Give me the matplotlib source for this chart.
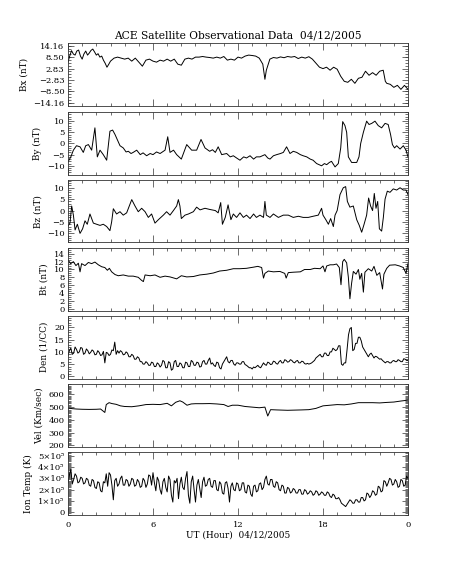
import numpy as np
import matplotlib
matplotlib.use("Agg")
import matplotlib.pyplot as plt
from matplotlib.ticker import FixedLocator, FixedFormatter, MultipleLocator

plt.rcParams['font.family'] = ['DejaVu Serif']

# ---------------- data ----------------
bx_t = [0, 0.12, 0.25, 0.38, 0.5, 0.62, 0.75, 0.88, 1.0, 1.12, 1.25, 1.38, 1.5, 1.62, 1.75, 1.88,
        2.0, 2.12, 2.25, 2.38, 2.5, 2.62, 2.75, 2.88, 3.0, 3.25, 3.5, 3.75,
        4.0, 4.25, 4.5, 4.75, 5.0, 5.25, 5.5, 5.75, 6.0, 6.25, 6.5, 6.75, 7.0, 7.25, 7.5, 7.75,
        8.0, 8.25, 8.5, 8.75, 9.0, 9.25, 9.5, 9.75, 10.0, 10.25, 10.5, 10.75, 11.0, 11.25, 11.5,
        11.75, 12.0, 12.25, 12.5, 12.75, 13.0, 13.25, 13.5, 13.75, 13.9, 14.0, 14.25, 14.5, 14.75,
        15.0, 15.25, 15.5, 15.75, 16.0, 16.25, 16.5, 16.75, 17.0, 17.25, 17.5, 17.75, 18.0, 18.25,
        18.5, 18.75, 19.0, 19.25, 19.5, 19.75, 20.0, 20.25, 20.5, 20.75, 21.0, 21.25, 21.5, 21.75,
        22.0, 22.25, 22.4, 22.5, 22.75, 23.0, 23.25, 23.5, 23.75, 24.0]
bx_v = [6.0, 9.0, 11.7, 10.0, 9.5, 11.5, 12.0, 9.0, 7.5, 10.0, 11.5, 9.5, 10.5, 11.8, 12.5, 11.0,
        9.5, 10.2, 8.5, 9.0, 7.0, 5.5, 3.5, 5.0, 6.5, 8.0, 8.5, 8.0,
        7.5, 8.0, 6.5, 8.0, 6.0, 4.0, 7.0, 7.5, 6.5, 6.0, 7.0, 6.5, 7.5, 6.5, 7.5, 5.0,
        4.5, 7.5, 8.0, 7.5, 8.5, 8.5, 8.8, 8.5, 8.3, 8.0, 8.5, 8.0, 8.8, 7.0, 7.5,
        7.0, 8.5, 8.0, 9.0, 9.5, 9.3, 9.0, 8.0, 5.0, -2.5, 2.0, 7.5, 8.3, 8.0,
        8.6, 8.2, 8.8, 8.5, 8.8, 7.8, 8.5, 8.0, 8.7, 7.5, 5.5, 3.5, 2.8, 3.5,
        2.0, 3.5, 2.5, -1.0, -3.5, -4.0, -2.5, -4.5, -2.0, -1.5, 1.5, -0.5, 0.8, -0.5,
        1.5, 2.0, -3.5, -4.5, -5.0, -6.5, -5.5, -7.5, -5.5, -7.5]

by_t = [0, 0.2, 0.38, 0.6, 0.85, 1.08, 1.25, 1.44, 1.67, 1.9, 2.07, 2.26, 2.49, 2.73, 2.96, 3.15,
        3.32, 3.67, 3.9, 4.1, 4.26, 4.45, 4.6, 4.85, 5.1, 5.3, 5.55, 5.8, 6.0, 6.25, 6.5, 6.85,
        7.04, 7.2, 7.45, 7.67, 8.0, 8.38, 8.73, 9.08, 9.39, 9.67, 10.0, 10.2, 10.4, 10.6, 10.85,
        11.2, 11.45, 11.67, 11.9, 12.14, 12.4, 12.6, 12.85, 13.1, 13.3, 13.55, 13.9, 14.1, 14.26,
        14.5, 14.73, 15.0, 15.2, 15.43, 15.67, 15.9, 16.14, 16.4, 16.6, 16.85, 17.1, 17.3, 17.55,
        17.9, 18.1, 18.26, 18.45, 18.6, 18.85, 19.08, 19.25, 19.39, 19.55, 19.67, 19.79, 20.02,
        20.38, 20.54, 20.66, 20.85, 21.08, 21.25, 21.44, 21.67, 21.9, 22.14, 22.38, 22.6, 22.77,
        22.9, 23.05, 23.2, 23.44, 23.67, 23.86, 24.0]
by_v = [-8.2, -6.0, -3.0, -1.0, -1.5, -4.0, -1.0, -0.5, -3.0, 7.0, -6.0, -3.0, -5.0, -7.5, 5.5, 6.0,
        4.0, -1.0, -2.0, -3.8, -3.5, -4.5, -4.0, -3.0, -5.0, -4.2, -5.5, -4.5, -5.0, -3.8, -4.5, -3.0,
        3.0, -4.0, -3.0, -5.0, -7.0, -0.5, -3.0, -3.0, 1.8, -2.0, -3.5, -2.8, -4.0, -1.5, -5.0,
        -4.5, -6.0, -5.5, -6.5, -7.5, -6.0, -6.5, -5.5, -7.0, -6.0, -6.0, -5.0, -6.5, -7.0,
        -5.5, -5.0, -4.5, -4.0, -1.5, -4.5, -3.5, -4.0, -5.0, -5.5, -6.0, -7.0, -7.5, -9.0,
        -10.0, -9.0, -9.5, -8.5, -8.0, -10.5, -9.0, -2.0, 9.8, 8.0, 5.0, -6.0, -8.5,
        -8.5, -6.0, 0.0, 5.0, 10.0, 8.5, 9.0, 10.0, 8.0, 7.0, 9.0, 8.5, 4.0,
        -0.5, -2.0, -1.0, -2.5, -1.0, -3.0, -6.0]

bz_t = [0, 0.14, 0.26, 0.38, 0.5, 0.66, 0.85, 1.03, 1.2, 1.36, 1.55, 1.79, 2.02, 2.26, 2.49,
        2.73, 2.96, 3.08, 3.2, 3.43, 3.67, 3.9, 4.14, 4.5, 4.73, 4.96, 5.2, 5.44, 5.67, 5.9, 6.14,
        6.38, 6.73, 6.96, 7.2, 7.44, 7.67, 7.79, 7.9, 8.0, 8.26, 8.5, 8.85, 9.08, 9.32, 9.67, 10.0,
        10.4, 10.6, 10.78, 10.9, 11.1, 11.3, 11.5, 11.67, 11.9, 12.14, 12.38, 12.6, 12.85, 13.1,
        13.3, 13.55, 13.8, 13.9, 14.0, 14.26, 14.5, 14.85, 15.2, 15.55, 15.9, 16.26, 16.6, 16.96,
        17.3, 17.67, 17.9, 18.0, 18.2, 18.38, 18.54, 18.73, 18.85, 19.0, 19.2, 19.43, 19.6, 19.72,
        19.9, 20.14, 20.38, 20.56, 20.73, 20.9, 21.08, 21.22, 21.36, 21.5, 21.62, 21.74, 21.86,
        21.98, 22.14, 22.26, 22.38, 22.54, 22.73, 22.96, 23.2, 23.44, 23.67, 23.86, 24.0]
bz_v = [-6.8, -5.5, 2.0, -2.0, -8.5, -6.0, -10.0, -8.0, -4.5, -6.0, -1.5, -5.5, -6.0, -6.5, -6.0,
        -7.0, -8.8, -5.0, 0.8, -1.5, -0.5, -2.0, -1.0, 4.8, 2.0, -0.5, 1.0, -0.5, -3.0, -1.5, -5.5,
        -4.0, -2.0, -0.5, -2.0, 0.0, 2.0, 4.8, 2.0, -3.5, -2.0, -1.5, -0.5, 1.5, 0.3, 1.0, 0.5,
        0.0, -1.0, 3.5, -6.0, -3.0, 2.5, -4.0, -1.5, -3.0, -1.0, -3.0, -2.0, -3.5, -1.5,
        -3.0, -2.0, -3.0, 4.0, -2.0, -3.0, -1.5, -3.0, -2.0, -2.0, -3.0, -2.5, -3.0, -3.0,
        -2.5, -2.0, 1.0, -2.0, -4.0, -6.0, -3.5, -7.0, -2.0, 0.0, 7.0, 10.0, 10.5, 4.0,
        1.5, 2.0, -4.0, -6.5, -9.5, -6.0, -2.0, 5.5, 2.0, 0.0, 7.5, 1.0, 4.0,
        -8.0, -9.0, -3.0, 5.0, 8.5, 8.0, 9.5, 9.0, 10.0, 9.0, 9.0, 7.0]

bt_t = [0, 0.19, 0.38, 0.56, 0.73, 0.85, 0.96, 1.2, 1.44, 1.67, 1.9, 2.14, 2.38, 2.6, 2.78, 2.92,
        3.08, 3.32, 3.55, 3.9, 4.26, 4.6, 4.96, 5.2, 5.32, 5.44, 5.8, 6.14, 6.5, 6.85, 7.2, 7.67,
        8.0, 8.38, 8.85, 9.3, 9.8, 10.26, 10.7, 11.2, 11.67, 12.14, 12.6, 13.1, 13.4, 13.67, 13.8,
        13.9, 14.14, 14.5, 14.96, 15.3, 15.4, 15.55, 15.9, 16.4, 16.7, 17.1, 17.4, 17.8, 18.0,
        18.14, 18.26, 18.5, 18.73, 18.96, 19.15, 19.27, 19.39, 19.5, 19.67, 19.79, 19.9, 20.02,
        20.14, 20.33, 20.5, 20.6, 20.73, 20.85, 20.96, 21.2, 21.44, 21.6, 21.8, 22.0, 22.2, 22.3,
        22.5, 22.7, 23.1, 23.4, 23.67, 23.86, 24.0]
bt_v = [12.4, 11.5, 12.0, 11.0, 11.6, 9.4, 11.5, 11.0, 11.8, 11.5, 11.9, 11.2, 10.7, 10.5, 9.8, 10.3,
        9.4, 8.7, 8.4, 8.6, 8.3, 8.3, 8.0, 7.2, 6.9, 8.6, 8.4, 8.6, 8.0, 8.3, 8.1, 7.6,
        8.4, 8.1, 8.2, 8.6, 8.8, 9.1, 9.6, 9.8, 10.2, 10.2, 10.3, 10.6, 10.8, 10.5, 7.8,
        9.0, 9.6, 9.4, 9.5, 9.0, 7.8, 9.2, 9.3, 9.4, 10.0, 10.0, 10.3, 10.2, 10.9,
        9.4, 10.9, 11.2, 11.2, 11.4, 10.5, 6.1, 12.0, 12.6, 11.7, 8.0, 2.5, 6.5,
        9.5, 8.8, 10.0, 7.5, 9.0, 4.2, 9.3, 10.2, 9.6, 10.8, 8.5, 9.2, 5.0, 8.8,
        10.3, 11.1, 11.2, 10.9, 10.5, 9.0, 11.5]

# density, one value every 0.1 h
den_v = [8.5, 10.5, 11.5, 9.0, 9.5, 12.0, 11.0, 9.5, 10.0, 11.8, 11.5, 9.0, 9.5, 11.2, 10.5, 9.2,
         9.8, 10.8, 10.3, 8.8, 9.0, 10.5, 9.8, 8.5, 8.8, 10.2, 5.5, 9.8, 9.5, 8.5, 9.0, 10.8,
         10.5, 14.0, 9.0, 10.5, 9.5, 10.5, 10.0, 8.8, 9.0, 10.0, 9.5, 8.0, 8.0, 9.0, 8.5, 7.0,
         7.0, 8.0, 7.5, 6.0, 6.0, 5.0, 5.0, 6.0, 5.5, 4.5, 4.5, 5.8, 5.5, 4.0, 4.0, 5.5,
         5.0, 3.8, 4.5, 6.5, 6.0, 3.5, 3.5, 6.0, 5.5, 2.5, 3.0, 6.0, 6.5, 4.0, 4.0, 5.5,
         5.0, 3.5, 3.5, 5.8, 5.5, 4.0, 4.0, 6.5, 6.0, 4.5, 4.5, 5.8, 5.5, 3.8, 4.0, 6.0,
         6.5, 5.0, 5.0, 6.5, 7.5, 5.0, 5.5, 4.5, 4.0, 5.8, 5.5, 3.5, 3.0, 5.0, 6.0, 7.0,
         8.0, 6.0, 5.5, 6.5, 6.5, 5.0, 4.5, 5.5, 5.5, 5.0, 5.0, 6.0, 6.0, 4.8, 4.5, 4.0,
         3.5, 3.5, 3.0, 3.8, 3.5, 4.0, 4.5, 3.8, 3.5, 4.5, 5.5, 4.8, 4.5, 5.8, 5.5, 4.8,
         5.0, 6.2, 6.0, 5.2, 5.0, 6.0, 6.5, 5.5, 5.5, 6.8, 6.5, 5.8, 6.0, 6.8, 6.5, 5.8,
         5.5, 6.2, 6.5, 5.5, 5.5, 6.2, 6.0, 5.2, 5.0, 5.3, 5.0, 5.2, 5.5, 6.0, 6.5, 7.5,
         8.0, 8.5, 9.0, 8.0, 8.0, 9.5, 9.5, 8.5, 8.5, 10.0, 10.0, 11.5, 11.0, 10.5, 11.0, 12.5,
         12.5, 5.0, 4.5, 5.5, 5.5, 11.0, 17.0, 19.5, 20.0, 10.5, 11.0, 13.5, 13.5, 16.0, 16.0, 14.5,
         12.0, 11.0, 10.0, 9.0, 8.0, 9.0, 9.5, 8.5, 7.5, 8.2, 8.0, 7.5, 7.0, 7.2, 6.5, 6.0,
         5.5, 6.0, 6.0, 5.5, 5.5, 6.2, 6.5, 6.0, 6.0, 6.8, 6.5, 6.0, 6.0, 7.2, 7.0, 6.5, 6.5]
den_t = [i * 0.1 for i in range(len(den_v))]

vel_t = [0, 0.3, 0.6, 1.0, 1.5, 2.0, 2.3, 2.6, 2.7, 2.9, 3.1, 3.4, 3.7, 4.0, 4.5, 5.0, 5.5, 6.0,
         6.5, 7.0, 7.3, 7.6, 7.9, 8.1, 8.4, 8.7, 9.0, 9.5, 10.0, 10.5, 11.0, 11.3, 11.6, 12.0,
         12.5, 13.0, 13.5, 13.9, 14.1, 14.3, 14.7, 15.5, 16.5, 17.0, 17.5, 18.0, 18.5, 19.0,
         19.5, 20.0, 20.5, 21.0, 21.5, 22.0, 22.5, 23.0, 23.5, 24.0]
vel_v = [493, 488, 485, 483, 482, 483, 485, 458, 520, 535, 528, 522, 510, 505, 503, 510, 520, 522,
         520, 530, 510, 538, 550, 540, 515, 525, 527, 527, 528, 525, 520, 505, 515, 515,
         505, 500, 495, 500, 430, 480, 478, 475, 478, 480, 490, 510, 515, 520,
         518, 525, 535, 535, 535, 533, 537, 540, 548, 555]

# ion temperature in units of 1e5 K, one value every 0.1 h
temp_v = [2.6, 3.3, 3.8, 2.5, 2.9, 3.4, 3.2, 2.6, 2.7, 3.1, 3.0, 2.5, 2.6, 3.0, 2.9, 2.4,
          2.3, 2.9, 2.8, 2.2, 2.1, 2.7, 2.6, 1.9, 1.8, 2.7, 2.6, 3.4, 2.3, 3.5, 3.3, 2.4,
          1.1, 2.8, 3.0, 2.3, 2.5, 3.0, 3.2, 2.4, 2.4, 2.9, 2.8, 2.3, 2.5, 3.0, 2.9, 2.3,
          2.4, 2.9, 2.7, 2.2, 2.3, 3.0, 2.8, 2.2, 2.5, 3.3, 3.2, 2.4, 3.5, 2.6, 1.9, 3.1,
          2.8, 2.0, 1.6, 2.7, 3.0, 2.2, 1.8, 3.2, 2.9, 1.5, 0.9, 2.8, 2.6, 3.0, 1.2, 2.5,
          3.1, 2.2, 2.0, 3.0, 3.6, 1.5, 0.8, 2.7, 3.2, 2.0, 0.9, 2.4, 2.9, 2.1, 1.3, 2.7,
          3.1, 2.3, 2.4, 2.9, 3.0, 2.3, 2.2, 2.8, 2.8, 2.0, 1.9, 2.7, 2.5, 1.7, 1.6, 2.6,
          2.7, 2.1, 0.9, 2.3, 2.6, 2.0, 1.9, 2.6, 2.5, 1.9, 2.0, 2.6, 2.6, 1.8, 1.7, 2.4,
          2.3, 1.6, 1.4, 2.3, 2.4, 1.8, 1.9, 2.5, 2.6, 2.0, 2.2, 2.9, 3.2, 2.5, 2.4, 2.9,
          2.9, 2.3, 2.2, 2.7, 2.6, 2.0, 1.9, 2.4, 2.3, 1.7, 1.7, 2.2, 2.1, 1.7, 1.8, 2.1,
          2.0, 1.7, 1.7, 2.0, 2.0, 1.6, 1.6, 2.0, 1.9, 1.6, 1.7, 1.9, 1.8, 1.5, 1.6, 1.9,
          1.8, 1.5, 1.6, 1.8, 1.7, 1.5, 1.5, 1.8, 1.7, 1.4, 1.3, 1.6, 1.5, 1.2, 1.2, 1.3,
          1.1, 0.8, 0.7, 0.6, 0.5, 0.7, 0.9, 1.1, 1.0, 0.8, 0.8, 1.1, 1.1, 0.9, 0.9, 1.3,
          1.3, 1.0, 1.1, 1.7, 1.6, 1.3, 1.5, 1.9, 1.8, 1.5, 1.6, 2.3, 2.2, 1.8, 1.9, 2.8,
          2.7, 2.3, 2.6, 3.0, 2.9, 2.4, 2.5, 2.9, 2.7, 2.2, 2.3, 2.9, 2.8, 2.3, 2.4, 3.2, 3.0]
temp_t = [i * 0.1 for i in range(len(temp_v))]

hour_ticks = [0, 6, 12, 18, 24]
hour_labels = ['0', '6', '12', '18', '0']

panels = [
    dict(t=bx_t, v=bx_v, label='Bx (nT)', ylim=(-15.5, 15.5),
         ticks=[-14.16, -8.50, -2.83, 2.83, 8.50, 14.16],
         tlabels=['\u221214.16', '\u22128.50', '\u22122.83', '2.83', '8.50', '14.16'], minor=1.415),
    dict(t=by_t, v=by_v, label='By (nT)', ylim=(-13.9, 14.1),
         ticks=[-10, -5, 0, 5, 10], tlabels=['\u221210', '\u22125', '0', '5', '10'], minor=1),
    dict(t=bz_t, v=bz_v, label='Bz (nT)', ylim=(-14.0, 13.4),
         ticks=[-10, -5, 0, 5, 10], tlabels=['\u221210', '\u22125', '0', '5', '10'], minor=1),
    dict(t=bt_t, v=bt_v, label='Bt (nT)', ylim=(-0.5, 15.5),
         ticks=[0, 2, 4, 6, 8, 10, 12, 14], tlabels=['0', '2', '4', '6', '8', '10', '12', '14'],
         minor=0.5),
    dict(t=den_t, v=den_v, label='Den (1/CC)', ylim=(-0.9, 24.7),
         ticks=[0, 5, 10, 15, 20], tlabels=['0', '5', '10', '15', '20'], minor=1),
    dict(t=vel_t, v=vel_v, label='Vel (Km/sec)', ylim=(190, 682),
         ticks=[200, 300, 400, 500, 600], tlabels=['200', '300', '400', '500', '600'], minor=10),
    dict(t=temp_t, v=temp_v, label='Ion Temp (K)', ylim=(-0.2, 5.33),
         ticks=[0, 1, 2, 3, 4, 5],
         tlabels=['0', '1\u00d710\u2075', '2\u00d710\u2075', '3\u00d710\u2075', '4\u00d710\u2075',
                  '5\u00d710\u2075'], minor=0.1),
]

W, H = 453, 566
fig = plt.figure(figsize=(W / 100, H / 100), dpi=100)
left, width = 68 / W, 340 / W
tops = [43, 112, 180, 248, 316, 384, 452]
ph = 62.5

for i, p in enumerate(panels):
    top = tops[i]
    ax = fig.add_axes([left, 1 - (top + ph) / H, width, ph / H])
    ax.plot(p['t'], p['v'], color='black', lw=0.7)
    ax.set_xlim(0, 24)
    ax.set_ylim(*p['ylim'])
    ax.yaxis.set_major_locator(FixedLocator(p['ticks']))
    ax.yaxis.set_major_formatter(FixedFormatter(p['tlabels']))
    ax.yaxis.set_minor_locator(MultipleLocator(p['minor']))
    ax.xaxis.set_major_locator(FixedLocator(hour_ticks))
    ax.xaxis.set_minor_locator(MultipleLocator(1))
    ax.tick_params(which='both', direction='in', top=True, right=True, width=0.5, color='#333333',
                   labelsize=6.0, pad=2.5)
    ax.tick_params(which='major', length=4)
    ax.tick_params(which='minor', length=2)
    ax.tick_params(axis='x', which='major', length=5)
    for s in ax.spines.values():
        s.set_linewidth(0.6)
        s.set_color('#333333')
    ax.set_ylabel(p['label'], fontsize=6.4, labelpad=3.5)
    if i == len(panels) - 1:
        ax.xaxis.set_major_formatter(FixedFormatter(hour_labels))
        ax.set_xlabel('UT (Hour)  04/12/2005', fontsize=6.4, labelpad=1)
        ax.tick_params(axis='x', pad=4.5)
    else:
        ax.set_xticklabels([])
    if i == 0:
        ax.set_title('ACE Satellite Observational Data  04/12/2005', fontsize=7.7, pad=3)

fig.savefig('out.png', dpi=100)
